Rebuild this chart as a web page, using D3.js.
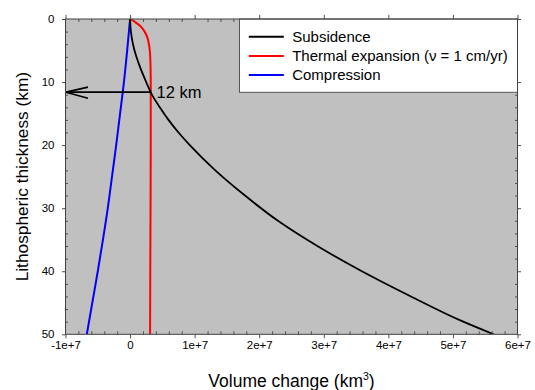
<!DOCTYPE html>
<html>
<head>
<meta charset="utf-8">
<script src="https://cdn.jsdelivr.net/npm/d3@7"></script>
<style>
  html, body { margin: 0; padding: 0; background: #fff; }
  svg { display: block; font-family: "Liberation Sans", Arial, sans-serif; }
</style>
</head>
<body>
<div id="chart"></div>
<script>
// ─── data ────────────────────────────────────────────────────────────────────
const depthSub = [0, 2, 4, 6, 8, 10, 12, 14, 16, 18, 20, 24, 28, 32, 36, 40, 44, 48, 50];
const subsidence = [0, 0.13e6, 0.45e6, 0.98e6, 1.68e6, 2.5e6, 3.38e6, 4.6e6, 5.95e6, 7.5e6, 9.25e6,
  13.2e6, 17.8e6, 22.9e6, 29.0e6, 35.9e6, 43.5e6, 51.6e6, 56.3e6];

const depthTherm = [0, 0.5, 1, 1.5, 2, 3, 4, 5, 6, 8, 10, 20, 30, 40, 50];
const thermal = [0, 0.8e6, 1.45e6, 1.9e6, 2.25e6, 2.7e6, 2.92e6, 3.05e6, 3.12e6, 3.18e6, 3.2e6,
  3.2e6, 3.17e6, 3.13e6, 3.1e6];

const depthComp = [0, 5, 10, 15, 20, 25, 30, 35, 40, 45, 50];
const compression = [0, -0.45e6, -0.95e6, -1.55e6, -2.15e6, -2.8e6, -3.45e6, -4.2e6, -5.0e6, -5.85e6, -6.7e6];

const seriesNames = ["Subsidence", "Thermal expansion (\u03BD = 1 cm/yr)", "Compression"];
const seriesColors = ["#000000", "#ff0000", "#0000ff"];

const xMajor = [-1e7, 0, 1e7, 2e7, 3e7, 4e7, 5e7, 6e7];
const yMajor = [0, 10, 20, 30, 40, 50];

// arrow annotation: where subsidence meets thermal expansion
const crossDepth = 11.6;
const crossVolume = 3.25e6;
const crossLabel = "12 km";

// ─── layout ──────────────────────────────────────────────────────────────────
const W = 535, H = 390;
const margin = { top: 19, right: 17.5, bottom: 55.7, left: 65.5 };
const w = W - margin.left - margin.right;
const h = H - margin.top - margin.bottom;

const svg = d3.select("#chart").append("svg")
  .attr("width", W).attr("height", H)
  .attr("viewBox", `0 0 ${W} ${H}`);

const x = d3.scaleLinear().domain([-1e7, 6e7]).range([0, w]);
const y = d3.scaleLinear().domain([0, 50]).range([0, h]);

const xMinor = d3.range(-1e7, 6e7 + 1, 2e6).filter((v) => !xMajor.includes(v));
const yMinor = d3.range(0, 51, 2).filter((v) => !yMajor.includes(v));

const g = svg.append("g").attr("transform", `translate(${margin.left},${margin.top})`);

g.append("rect").attr("width", w).attr("height", h).attr("fill", "#c0c0c0");

g.append("defs").append("clipPath").attr("id", "clip")
  .append("rect").attr("width", w).attr("height", h);

// ─── curves ──────────────────────────────────────────────────────────────────
const line = d3.line().x((d) => x(d[0])).y((d) => y(d[1])).curve(d3.curveMonotoneY);

const series = [
  { vals: subsidence, depth: depthSub, width: 1.8 },
  { vals: thermal, depth: depthTherm, width: 2 },
  { vals: compression, depth: depthComp, width: 2 },
];

const curves = g.append("g").attr("clip-path", "url(#clip)");
series.slice().reverse().forEach((s, i) => {
  const idx = series.length - 1 - i;
  curves.append("path")
    .datum(s.vals.map((v, j) => [v, s.depth[j]]))
    .attr("fill", "none")
    .attr("stroke", seriesColors[idx])
    .attr("stroke-width", s.width)
    .attr("d", line);
});

// arrow
const ay = y(crossDepth);
const ax0 = x(crossVolume), ax1 = x(-1e7) + 0.5;
const arrow = g.append("g").attr("stroke", "#000").attr("stroke-width", 1.6).attr("fill", "none");
arrow.append("line").attr("x1", ax0).attr("x2", ax1).attr("y1", ay).attr("y2", ay);
arrow.append("path").attr("d", `M${ax1 + 22},${ay - 5}L${ax1},${ay}L${ax1 + 22},${ay + 6}`);
g.append("text").attr("x", ax0 + 5.5).attr("y", ay + 5.8)
  .attr("font-size", 16.5).attr("fill", "#000").text(crossLabel);

// ─── axes ────────────────────────────────────────────────────────────────────
const tickCol = "#505050";
function styleAxis(sel) {
  sel.select(".domain").remove();
  sel.selectAll("line").attr("stroke", tickCol);
  sel.selectAll("text").attr("fill", "#000").attr("font-size", 11.5)
    .attr("font-family", "'Liberation Sans', Arial, sans-serif");
}
const fmtX = (d) => (d === 0 ? "0" : `${d / 1e7}e+7`);

g.append("g").attr("transform", `translate(0,${h})`)
  .call(d3.axisBottom(x).tickValues(xMajor).tickSize(4).tickFormat(fmtX))
  .call(styleAxis)
  .call((a) => a.selectAll("text").attr("y", 14.8).attr("dy", null));
g.append("g").attr("transform", `translate(0,${h})`)
  .call(d3.axisBottom(x).tickValues(xMinor).tickSize(-3).tickFormat(""))
  .call(styleAxis);
g.append("g")
  .call(d3.axisTop(x).tickValues(xMajor).tickSize(4).tickFormat(""))
  .call(styleAxis);
g.append("g")
  .call(d3.axisTop(x).tickValues(xMinor).tickSize(-3).tickFormat(""))
  .call(styleAxis);

g.append("g")
  .call(d3.axisLeft(y).tickValues(yMajor).tickSize(3.5).tickPadding(7.5))
  .call(styleAxis);
g.append("g")
  .call(d3.axisLeft(y).tickValues(yMinor).tickSize(-2.5).tickFormat(""))
  .call(styleAxis);
g.append("g").attr("transform", `translate(${w},0)`)
  .call(d3.axisRight(y).tickValues(yMajor).tickSize(3.5).tickFormat(""))
  .call(styleAxis);
g.append("g").attr("transform", `translate(${w},0)`)
  .call(d3.axisRight(y).tickValues(yMinor).tickSize(-2.5).tickFormat(""))
  .call(styleAxis);

// ─── legend ──────────────────────────────────────────────────────────────────
const legW = 278, legH = 73.3;
const leg = g.append("g").attr("transform", `translate(${w - legW},0)`);
leg.append("rect").attr("width", legW).attr("height", legH)
  .attr("fill", "#fff").attr("stroke", "#555").attr("stroke-width", 1);
seriesNames.forEach((name, i) => {
  const ly = 17.7 + i * 19.2;
  leg.append("line").attr("x1", 9.3).attr("x2", 44.3).attr("y1", ly).attr("y2", ly)
    .attr("stroke", seriesColors[i]).attr("stroke-width", 2);
  leg.append("text").attr("x", 52.7).attr("y", ly + 5.3)
    .attr("font-size", 15).attr("fill", "#000").text(name);
});

// frame
g.append("rect").attr("width", w).attr("height", h)
  .attr("fill", "none").attr("stroke", "#404040").attr("stroke-width", 1);

// ─── titles ──────────────────────────────────────────────────────────────────
const xt = svg.append("text")
  .attr("x", margin.left + w / 2).attr("y", 387)
  .attr("text-anchor", "middle").attr("font-size", 17.5).attr("fill", "#000");
xt.append("tspan").text("Volume change (km");
xt.append("tspan").attr("font-size", 10.5).attr("dy", -7).text("3");
xt.append("tspan").attr("dy", 7).text(")");

svg.append("text")
  .attr("transform", `translate(28.3,${margin.top + h / 2}) rotate(-90)`)
  .attr("text-anchor", "middle").attr("font-size", 17.3).attr("fill", "#000")
  .text("Lithospheric thickness (km)");
</script>
</body>
</html>
